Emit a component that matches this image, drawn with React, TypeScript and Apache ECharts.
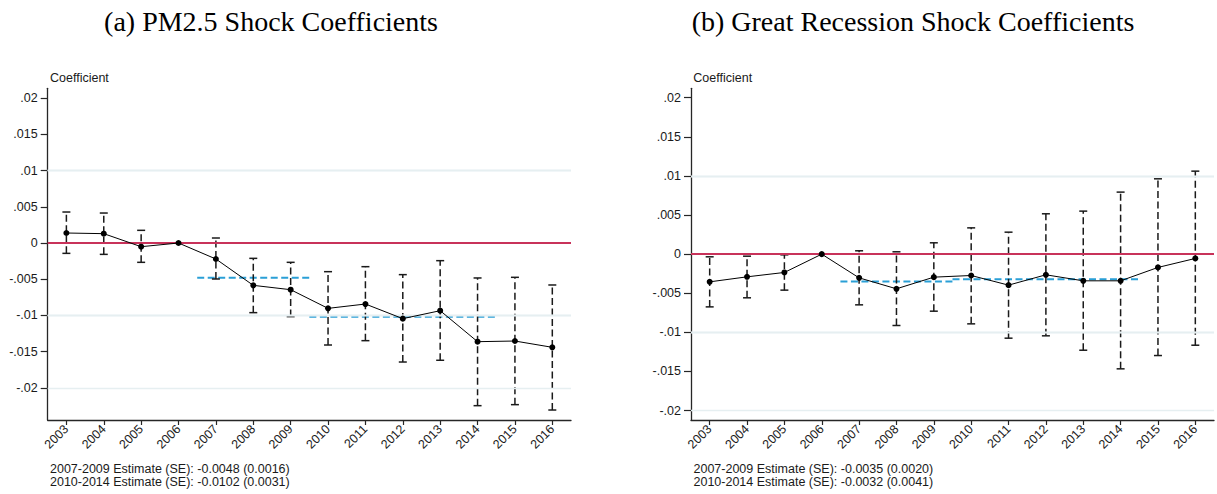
import React, { useEffect, useRef } from "react";
import * as echarts from "echarts";

// Event-study years
const years = [2003, 2004, 2005, 2006, 2007, 2008, 2009, 2010, 2011, 2012, 2013, 2014, 2015, 2016];

// (a) PM2.5 shock: point estimates and 95% CI bounds (2006 is the omitted base year)
const pmCoef = [0.00138, 0.00129, -0.00051, 0, -0.00221, -0.00585, -0.00645, -0.00903, -0.00843, -0.01045, -0.00935, -0.01363, -0.01354, -0.01441];
const pmLower = [-0.00143, -0.00157, -0.00267, null, -0.00497, -0.00962, -0.01017, -0.01409, -0.01349, -0.01644, -0.0162, -0.02247, -0.02233, -0.02307];
const pmUpper = [0.00428, 0.00414, 0.00175, null, 0.00069, -0.00212, -0.00267, -0.00396, -0.00327, -0.00437, -0.00244, -0.00483, -0.00474, -0.0058];

// (b) Great Recession shock
const grCoef = [-0.00354, -0.0029, -0.00234, 0, -0.00303, -0.00443, -0.00294, -0.00273, -0.00396, -0.00264, -0.00341, -0.00341, -0.0017, -0.00055];
const grLower = [-0.00674, -0.00558, -0.0046, null, -0.00648, -0.00912, -0.00729, -0.00891, -0.01074, -0.01044, -0.01228, -0.01466, -0.01296, -0.01164];
const grUpper = [-0.00034, -0.00026, -0.00009, null, 0.00043, 0.0003, 0.00145, 0.00336, 0.00281, 0.00516, 0.0055, 0.00793, 0.00963, 0.01061];

// Pooled period estimates
const pmPeriods = [
  { from: 2007, to: 2009, est: -0.0048, se: 0.0016 },
  { from: 2010, to: 2014, est: -0.0102, se: 0.0031 },
];
const grPeriods = [
  { from: 2007, to: 2009, est: -0.0035, se: 0.002 },
  { from: 2010, to: 2014, est: -0.0032, se: 0.0041 },
];

// Y tick values
const yTicks = [-0.02, -0.015, -0.01, -0.005, 0, 0.005, 0.01, 0.015, 0.02];
const gridTicks = [-0.02, -0.015, -0.01, -0.005, 0.005, 0.01, 0.015];

const titles = ["(a) PM2.5 Shock Coefficients", "(b) Great Recession Shock Coefficients"];

const SANS = "Liberation Sans, Arial, Helvetica, sans-serif";
const SERIF = "Liberation Serif, Times New Roman, serif";
const AXIS = "#262626";
const BLUE = "#2a9fd6";
const RED = "#c8325a";
const GRID = "#e6eff1";
const FS = 12.5;

const fmtTick = (v: number) => {
  if (Math.abs(v) < 1e-12) return "0";
  const s = String(Math.abs(v)).replace(/^0/, "");
  return (v < 0 ? "-" : "") + s;
};

const fmtNote = (p: { from: number; to: number; est: number; se: number }) =>
  `${p.from}-${p.to} Estimate (SE): ${p.est.toFixed(4)} (${p.se.toFixed(4)})`;

function panelSeries(
  idx: number,
  coef: number[],
  lower: (number | null)[],
  upper: (number | null)[],
  periods: { from: number; to: number; est: number }[]
) {
  const ci = years
    .map((y, i) => [y, lower[i], upper[i]])
    .filter((d) => d[1] !== null && d[2] !== null);
  const series: any[] = [
    {
      type: "line",
      xAxisIndex: idx,
      yAxisIndex: idx,
      data: [],
      z: 1,
      silent: true,
      markLine: {
        silent: true,
        symbol: "none",
        label: { show: false },
        lineStyle: { color: GRID, width: 1.3, type: "solid" },
        data: gridTicks.map((v) => ({ yAxis: v })),
      },
    },
    {
      type: "line",
      xAxisIndex: idx,
      yAxisIndex: idx,
      data: [],
      z: 2,
      silent: true,
      markLine: {
        silent: true,
        symbol: "none",
        label: { show: false },
        lineStyle: { color: RED, width: 1.8, type: "solid" },
        data: [{ yAxis: 0 }],
      },
    },
  ];
  periods.forEach((p) => {
    series.push({
      type: "line",
      xAxisIndex: idx,
      yAxisIndex: idx,
      z: 3,
      symbol: "none",
      silent: true,
      lineStyle: { color: BLUE, width: 2, type: [7, 3.5] },
      data: [
        [p.from - 0.5, p.est],
        [p.to + 0.5, p.est],
      ],
    });
  });
  series.push({
    type: "custom",
    xAxisIndex: idx,
    yAxisIndex: idx,
    z: 4,
    silent: true,
    encode: { x: 0, y: [1, 2] },
    data: ci,
    renderItem: (_params: any, api: any) => {
      const x = api.value(0);
      const lo = api.coord([x, api.value(1)]);
      const hi = api.coord([x, api.value(2)]);
      const cap = 4;
      const solid = { stroke: "#1a1a1a", lineWidth: 1.5 };
      return {
        type: "group",
        children: [
          {
            type: "line",
            shape: { x1: lo[0], y1: lo[1], x2: hi[0], y2: hi[1] },
            style: { stroke: "#1a1a1a", lineWidth: 1.5, lineDash: [7, 3.5] },
          },
          { type: "line", shape: { x1: hi[0] - cap, y1: hi[1], x2: hi[0] + cap, y2: hi[1] }, style: solid },
          { type: "line", shape: { x1: lo[0] - cap, y1: lo[1], x2: lo[0] + cap, y2: lo[1] }, style: solid },
        ],
      };
    },
  });
  series.push({
    type: "line",
    xAxisIndex: idx,
    yAxisIndex: idx,
    z: 5,
    silent: true,
    symbol: "circle",
    symbolSize: 6,
    itemStyle: { color: "#000" },
    lineStyle: { color: "#000", width: 1 },
    data: years.map((y, i) => [y, coef[i]]),
  });
  return series;
}

const grids = [
  { left: 47.7, top: 88.3, width: 523.3, height: 331.7 },
  { left: 691, top: 88.3, width: 523, height: 331.7 },
];
const yRanges = [
  { min: -0.02445, max: 0.02137 },
  { min: -0.0212, max: 0.0212 },
];

export default function App() {
  const ref = useRef<HTMLDivElement>(null);
  useEffect(() => {
    document.body.style.margin = "0";
    if (!ref.current) return;
    const chart = echarts.init(ref.current, null, { renderer: "svg" });

    const xAxes = grids.map((_, i) => ({
      type: "value",
      gridIndex: i,
      min: years[0] - 0.5,
      max: years[years.length - 1] + 0.5,
      axisLine: { show: true, onZero: false, lineStyle: { color: AXIS, width: 1.3 } },
      axisTick: { show: true, length: 5, customValues: years, lineStyle: { color: AXIS, width: 1.2 } },
      axisLabel: {
        customValues: years,
        rotate: 45,
        margin: 7,
        fontSize: FS,
        fontFamily: SANS,
        color: "#1a1a1a",
        formatter: (v: number) => String(Math.round(v)),
      },
      splitLine: { show: false },
    }));
    const yAxes = grids.map((_, i) => ({
      type: "value",
      gridIndex: i,
      min: yRanges[i].min,
      max: yRanges[i].max,
      axisLine: { show: true, onZero: false, lineStyle: { color: AXIS, width: 1.3 } },
      axisTick: { show: true, length: 7, customValues: yTicks, lineStyle: { color: AXIS, width: 1.2 } },
      axisLabel: {
        customValues: yTicks,
        margin: 10,
        fontSize: FS,
        fontFamily: SANS,
        color: "#1a1a1a",
        formatter: fmtTick,
      },
      splitLine: { show: false },
    }));

    const notesA = pmPeriods.map(fmtNote);
    const notesB = grPeriods.map(fmtNote);

    const textEl = (x: number, y: number, text: string, extra: any = {}) => ({
      type: "text",
      x,
      y,
      silent: true,
      style: {
        text,
        fontSize: FS,
        fontFamily: SANS,
        fill: "#1a1a1a",
        textVerticalAlign: "middle",
        ...extra,
      },
    });

    chart.setOption({
      animation: false,
      backgroundColor: "#ffffff",
      grid: grids,
      xAxis: xAxes,
      yAxis: yAxes,
      series: [
        ...panelSeries(0, pmCoef, pmLower, pmUpper, pmPeriods),
        ...panelSeries(1, grCoef, grLower, grUpper, grPeriods),
      ],
      graphic: [
        textEl(271, 21, titles[0], { fontSize: 28, fontFamily: SERIF, textAlign: "center", fill: "#000" }),
        textEl(913, 21, titles[1], { fontSize: 28, fontFamily: SERIF, textAlign: "center", fill: "#000" }),
        textEl(50, 78, "Coefficient"),
        textEl(693.3, 78, "Coefficient"),
        textEl(50, 469, notesA[0]),
        textEl(50, 481.5, notesA[1]),
        textEl(693.5, 469, notesB[0]),
        textEl(693.5, 481.5, notesB[1]),
      ],
    });
    return () => chart.dispose();
  }, []);
  return <div ref={ref} style={{ width: 1217, height: 494 }} />;
}
